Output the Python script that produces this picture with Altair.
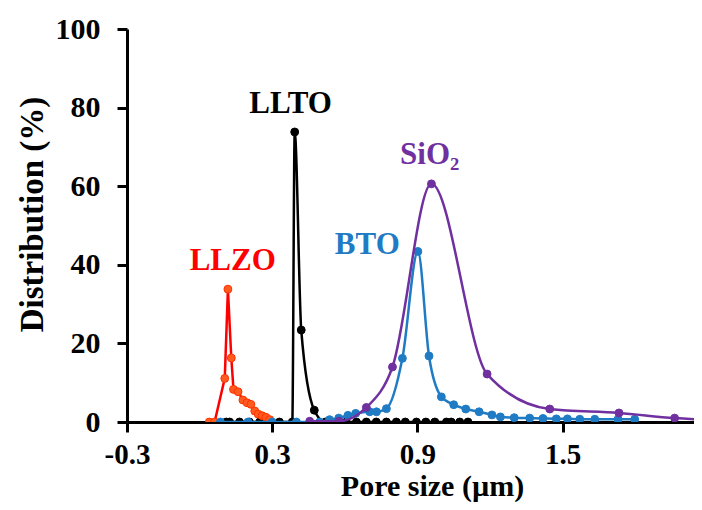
import altair as alt
import pandas as pd

# ---- data ----
llzo_x = [0.040, 0.062, 0.104, 0.117, 0.131, 0.140, 0.159, 0.179, 0.196, 0.212, 0.228, 0.242, 0.258, 0.274, 0.290]
llzo_y = [0.0, 0.0, 11.1, 33.8, 16.3, 8.3, 7.7, 5.6, 4.9, 4.5, 2.8, 2.0, 1.6, 1.2, 0.6]

llto_x = [0.110, 0.124, 0.165, 0.206, 0.248, 0.289, 0.330, 0.383, 0.393, 0.420, 0.474,
          0.520, 0.565, 0.606, 0.648, 0.689, 0.730, 0.772, 0.813, 0.850, 0.896,
          0.935, 0.972, 1.020, 1.040, 1.075, 1.109]
llto_y = [0.0, 0.0, 0.0, 0.0, 0.0, 0.0, 0.0, 0.0, 73.8, 23.4, 3.0,
          0.0, 0.0, 0.0, 0.0, 0.0, 0.0, 0.0, 0.0, 0.0, 0.0,
          0.0, 0.0, 0.0, 0.0, 0.0, 0.0]

bto_x = [0.086, 0.200, 0.300, 0.400, 0.496, 0.537, 0.575, 0.613, 0.645, 0.703, 0.731, 0.772,
         0.838, 0.902, 0.948, 0.999, 1.050, 1.100, 1.155, 1.208, 1.243, 1.300, 1.364,
         1.419, 1.474, 1.520, 1.571, 1.633, 1.729, 1.798]
bto_y = [0.0, 0.0, 0.0, 0.0, 0.0, 0.6, 1.0, 1.7, 2.2, 2.6, 2.6, 3.4,
         16.2, 43.4, 16.8, 6.4, 4.4, 3.3, 2.6, 1.8, 1.3, 1.1, 1.0,
         0.9, 0.8, 0.8, 0.7, 0.7, 0.7, 0.7]

sio2_x = [0.455, 0.576, 0.689, 0.797, 0.958, 1.188, 1.447, 1.733, 1.963, 2.200]
sio2_y = [0.2, 0.2, 3.7, 14.0, 60.6, 12.2, 3.3, 2.3, 1.0, 0.3]

label_text = ["LLZO", "LLTO", "BTO", "SiO₂"]
label_x = [0.137, 0.376, 0.693, 0.951]
label_y = [41.0, 81.0, 45.1, 68.0]

x_ticks = [-0.3, 0.3, 0.9, 1.5]
y_ticks = [0, 20, 40, 60, 80, 100]

FONT = "Liberation Serif"

series = [
    ("LLTO", llto_x, llto_y, "#000000", "#000000", "#000000", "monotone"),
    ("LLZO", llzo_x, llzo_y, "#FF0000", "#FF5A1F", "#FF3300", "linear"),
    ("BTO", bto_x, bto_y, "#1F7BC4", "#1F7BC4", "#1F7BC4", "monotone"),
    ("SiO2", sio2_x, sio2_y, "#7030A0", "#7030A0", "#7030A0", "monotone"),
]

xscale = alt.Scale(domain=[-0.3, 2.043], nice=False, zero=False)
yscale = alt.Scale(domain=[0, 100], nice=False)

xaxis = alt.Axis(
    values=x_ticks, labelExpr="replace(format(datum.value, '.1f'), '−', '-')",
    title="Pore size (µm)", grid=False,
    domainWidth=3, domainColor="black", tickWidth=3, tickColor="black", tickSize=10,
    labelFont=FONT, labelFontWeight="bold", labelFontSize=29, labelColor="black",
    labelBaseline="alphabetic", labelPadding=31, labelFlush=False, labelOverlap=False,
    titleFont=FONT, titleFontWeight="bold", titleFontSize=30, titleColor="black",
    titleX=305, titleY=73.5, titleBaseline="alphabetic", titleAlign="center",
)
yaxis = alt.Axis(
    values=y_ticks, format="d", title="Distribution (%)", grid=False,
    domainWidth=3, domainColor="black", tickWidth=3, tickColor="black", tickSize=10,
    labelFont=FONT, labelFontWeight="bold", labelFontSize=30, labelColor="black",
    labelPadding=17, labelFlush=False, labelOverlap=False,
    titleFont=FONT, titleFontWeight="bold", titleFontSize=33, titleColor="black",
    titleX=-85, titleY=185, titleAngle=270, titleBaseline="alphabetic", titleAlign="center",
)

enc_x = alt.X("x:Q", scale=xscale, axis=xaxis)
enc_y = alt.Y("y:Q", scale=yscale, axis=yaxis)

layers = []
for name, xs, ys, lc, fc, sc, interp in series:
    df = pd.DataFrame({"x": xs, "y": ys})
    base = alt.Chart(df)
    line = base.mark_line(color=lc, strokeWidth=2.5, interpolate=interp, clip=True).encode(x=enc_x, y=enc_y)
    pts = base.mark_circle(size=62, color=fc, opacity=1, stroke=sc, strokeWidth=1, clip=True).encode(
        x=enc_x, y=enc_y)
    layers += [line, pts]

lab_df = pd.DataFrame({"t": label_text, "x": label_x, "y": label_y,
                       "c": ["#FF0000", "#000000", "#1F7BC4", "#7030A0"]})
labels = alt.Chart(lab_df).mark_text(font=FONT, fontWeight="bold", fontSize=31,
                                     align="center", baseline="middle").encode(
    x=enc_x, y=enc_y,
    text="t:N", color=alt.Color("c:N", scale=None))
layers.append(labels)

chart = alt.layer(*layers).properties(
    width=567, height=393,
    autosize=alt.AutoSizeParams(type="none"),
    padding={"left": 119, "top": 21, "right": 0, "bottom": 80},
).configure(background="white").configure_view(strokeWidth=0, stroke="transparent")

chart.save("out.html", embed_options={"renderer": "svg", "actions": False})
